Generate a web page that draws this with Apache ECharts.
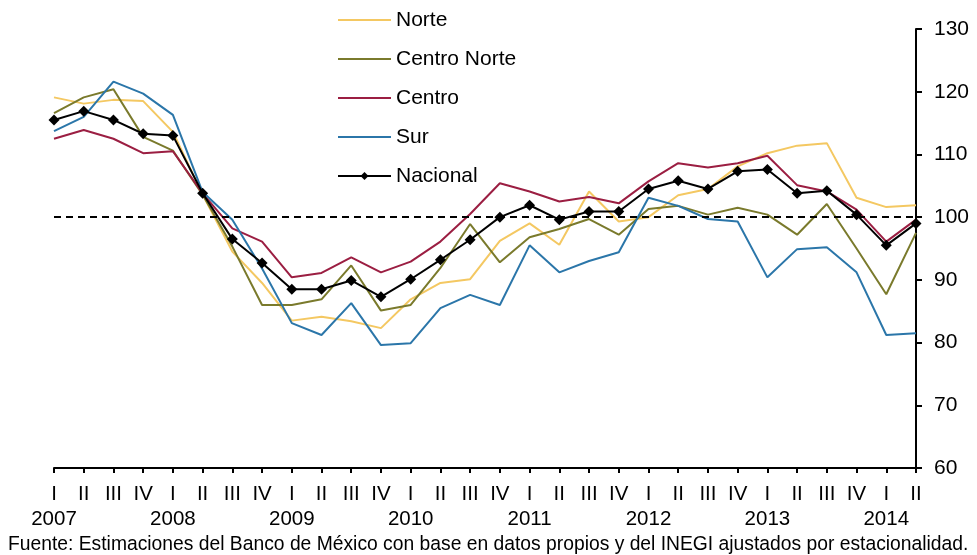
<!DOCTYPE html>
<html>
<head>
<meta charset="utf-8">
<script src="https://cdn.jsdelivr.net/npm/echarts@6/dist/echarts.min.js"></script>
<style>
  html, body { margin: 0; padding: 0; background: #fff; }
  #chart { width: 977px; height: 555px; }
</style>
</head>
<body>
<div id="chart"></div>
<script>
// trimestres 2007-I a 2014-II
const years = [2007, 2008, 2009, 2010, 2011, 2012, 2013, 2014]
const quarters = ['I', 'II', 'III', 'IV']
const categories = []
years.forEach(y => quarters.forEach(q => {
  if (categories.length < 30) categories.push(y + '-' + q)
}))

const norte = [119.1, 118.1, 118.7, 118.5, 113.6, 103.6, 94.5, 89.5, 83.5, 84.1,
  83.4, 82.3, 86.9, 89.5, 90.1, 96.2, 99.0, 95.6, 104.1, 99.3,
  100.0, 103.5, 104.5, 108.1, 110.2, 111.4, 111.8, 103.1, 101.6, 101.9]
const centroNorte = [116.6, 119.1, 120.4, 112.8, 110.6, 103.6, 95.3, 86.0, 86.0, 86.9,
  92.3, 85.1, 86.0, 91.9, 98.9, 92.8, 96.8, 98.1, 99.7, 97.2,
  101.3, 101.8, 100.4, 101.5, 100.4, 97.2, 102.1, 95.0, 87.7, 97.5]
const centro = [112.5, 113.9, 112.5, 110.2, 110.5, 103.8, 98.2, 96.1, 90.4, 91.1,
  93.6, 91.2, 92.9, 96.1, 100.5, 105.4, 104.1, 102.5, 103.2, 102.2,
  105.7, 108.6, 107.9, 108.6, 109.8, 105.1, 104.1, 101.2, 96.1, 99.6]
const sur = [113.7, 116.0, 121.6, 119.7, 116.3, 104.0, 99.6, 91.8, 83.1, 81.2,
  86.3, 79.6, 79.9, 85.5, 87.6, 86.0, 95.5, 91.2, 93.0, 94.4,
  103.1, 101.8, 99.7, 99.3, 90.4, 94.9, 95.2, 91.2, 81.2, 81.5]
const nacional = [115.5, 116.9, 115.5, 113.3, 113.0, 103.8, 96.5, 92.7, 88.5, 88.5,
  89.9, 87.3, 90.1, 93.2, 96.4, 100.0, 101.9, 99.6, 100.9, 100.9,
  104.5, 105.8, 104.5, 107.3, 107.6, 103.8, 104.2, 100.4, 95.5, 99.0]

const font = 'Liberation Sans, Arial, sans-serif'

const chart = echarts.init(document.getElementById('chart'))

function lineSeries(name, data, color) {
  return {
    name: name,
    type: 'line',
    data: data,
    symbol: 'none',
    lineStyle: { color: color, width: 2 },
    // transparent so the legend only shows the line
    itemStyle: { color: 'rgba(0,0,0,0)' },
    animation: false
  }
}

const option = {
  backgroundColor: '#fff',
  grid: { left: 54, right: 61, top: 29, bottom: 87 },
  legend: {
    orient: 'vertical',
    left: 332,
    top: 4,
    itemWidth: 53,
    itemHeight: 10,
    itemGap: 17,
    textStyle: { fontFamily: font, fontSize: 21, color: '#000', lineHeight: 22 },
    data: ['Norte', 'Centro Norte', 'Centro', 'Sur', 'Nacional']
  },
  xAxis: {
    type: 'category',
    data: categories,
    boundaryGap: false,
    axisLine: { lineStyle: { color: '#000', width: 2 } },
    axisTick: { interval: 0, length: 5, lineStyle: { color: '#000', width: 2 } },
    axisLabel: {
      interval: 0,
      margin: 14,
      fontFamily: font,
      fontSize: 20.5,
      color: '#000',
      lineHeight: 25,
      formatter: function (val) {
        const parts = val.split('-')
        return parts[1] === 'I' ? parts[1] + '\n' + parts[0] : parts[1]
      }
    },
    splitLine: { show: false }
  },
  yAxis: {
    type: 'value',
    position: 'right',
    min: 60,
    max: 130,
    interval: 10,
    axisLine: { show: true, lineStyle: { color: '#000', width: 2 } },
    axisTick: { show: true, length: 6, lineStyle: { color: '#000', width: 2 } },
    axisLabel: { margin: 18, fontFamily: font, fontSize: 21, color: '#000' },
    splitLine: { show: false }
  },
  series: [
    lineSeries('Norte', norte, '#F4C862'),
    lineSeries('Centro Norte', centroNorte, '#7A7A2C'),
    lineSeries('Centro', centro, '#9B1E42'),
    lineSeries('Sur', sur, '#2B76A9'),
    {
      name: 'Nacional',
      type: 'line',
      data: nacional,
      symbol: 'diamond',
      symbolSize: 11,
      z: 5,
      lineStyle: { color: '#000', width: 2 },
      itemStyle: { color: '#000' },
      animation: false,
      markLine: {
        silent: true,
        symbol: 'none',
        label: { show: false },
        lineStyle: { color: '#000', type: [7, 5], width: 2 },
        data: [{ yAxis: 100 }],
        animation: false
      }
    }
  ],
  graphic: [{
    type: 'text',
    x: 8,
    y: 545,
    style: {
      text: 'Fuente: Estimaciones del Banco de México con base en datos propios y del INEGI ajustados por estacionalidad.',
      font: '19.3px Liberation Sans, Arial, sans-serif',
      fill: '#000',
      verticalAlign: 'middle'
    }
  }]
}

chart.setOption(option)
</script>
</body>
</html>
